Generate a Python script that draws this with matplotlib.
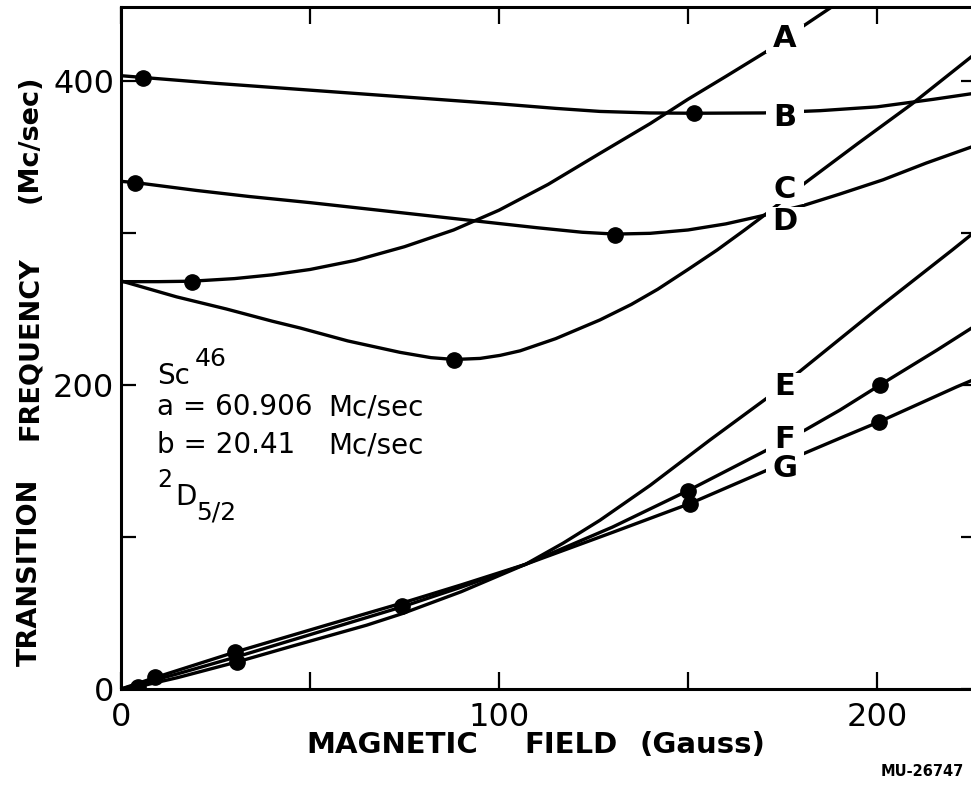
import matplotlib
matplotlib.use("Agg")
import matplotlib.pyplot as plt
from matplotlib.patches import Rectangle

# ---------------- data ----------------
A_x = [0, 10, 18.7, 30, 40, 50, 62, 75, 88, 100, 113, 126.7, 140, 150, 160, 170.5, 180.4, 190]
A_y = [268, 268, 268.3, 270, 272.5, 276, 282, 291, 302, 315, 332, 352.4, 372, 388, 403, 419, 436, 452]

B_x = [0, 25, 50, 75, 100, 115, 126.7, 140, 151.5, 170, 185, 200, 215, 226]
B_y = [403.5, 398.5, 394, 389.5, 385, 382, 380, 379, 378.8, 379, 380.5, 383, 388, 392]

C_x = [0, 14.7, 27.9, 40, 47.4, 60, 73.8, 82, 88.2, 95, 100.3, 105.6, 115, 126.7, 135, 142,
       150, 157.7, 165, 170.9, 181, 195, 209.3, 226]
C_y = [268.5, 258, 250, 242, 237.5, 229, 221.5, 218, 216.8, 217.5, 219.5, 222.5, 230.5, 242.8,
       253, 263, 276, 288.8, 302, 313, 333, 359, 385, 418]

D_x = [0, 3.7, 20, 34, 50, 70, 90, 110, 122, 130.7, 140, 150, 160, 169, 180.4, 190, 201.6, 213, 226]
D_y = [334, 333.2, 328, 324, 320, 314.5, 309, 303.5, 300.5, 299.3, 299.8, 302, 306, 311, 318,
       325.5, 335, 346, 357.5]

E_x = [0, 4.5, 15, 30.7, 45, 55, 65, 74.3, 90, 107, 117, 126.7, 140, 155.8, 170.9, 181, 200, 220, 226]
E_y = [0, 1.5, 7.5, 17.8, 28, 35, 42, 49.5, 64, 82, 96, 111, 134, 163.8, 191.4, 211.8, 250, 289, 301]

F_x = [0, 15, 30.4, 55, 74.3, 90, 107, 130, 150, 170.4, 181, 190.2, 200.8, 215.9, 226]
F_y = [0, 10, 21, 39.5, 54, 67, 82, 106.5, 130.5, 156.6, 170.4, 183.5, 200, 223, 239]

G_x = [0, 9, 30.2, 55, 74.3, 90, 107, 130, 150.5, 170.4, 181, 190.2, 200.5, 221, 226]
G_y = [0, 7.5, 24.3, 42.5, 56.5, 68.5, 82, 103, 122, 143.4, 155.3, 165, 175.7, 198.7, 204]

curves = {"A": (A_x, A_y), "B": (B_x, B_y), "C": (C_x, C_y), "D": (D_x, D_y),
          "E": (E_x, E_y), "F": (F_x, F_y), "G": (G_x, G_y)}

# measured points (dots)
dots_x = [5.8, 151.5, 3.7, 130.7, 18.7, 88.2, 4.5, 9, 30.2, 30.7, 74.3, 150, 150.5, 200.8, 200.5]
dots_y = [402, 379, 333, 299, 267.5, 216.4, 1.5, 8, 24.3, 17.8, 54.5, 130.5, 122, 200, 175.7]

# curve labels
label_names = ["A", "B", "C", "D", "E", "F", "G"]
label_x = [175.7, 175.7, 175.7, 175.7, 175.7, 175.7, 175.7]
label_y = [428, 376, 328.5, 307.5, 198.7, 164, 145]

x_ticks = [0, 50, 100, 150, 200]
x_ticklabels = ["0", "", "100", "", "200"]
y_ticks = [0, 100, 200, 300, 400]
y_ticklabels = ["0", "", "200", "", "400"]

# ---------------- figure ----------------
W, H = 971, 789
plt.rcParams['font.family'] = ['DejaVu Sans']
fig = plt.figure(figsize=(W / 100, H / 100), dpi=100)
ax = fig.add_axes([121 / W, 100 / H, 855 / W, 682 / H])
ax.set_xlim(0, 226.2)
ax.set_ylim(0, 448.7)


def P(x, y):
    return (x / W, 1 - y / H)


for name, (xs, ys) in curves.items():
    ax.plot(xs, ys, color='black', lw=2.4, solid_capstyle='round',
            solid_joinstyle='round', zorder=2)

ax.plot(dots_x, dots_y, 'o', color='black', ms=11, zorder=3)

# white gaps in the curves behind the labels, then the letters on top
gap_w, gap_h = 10.0, 19.0   # in data units
for lx, ly in zip(label_x, label_y):
    ax.add_patch(Rectangle((lx - gap_w / 2, ly - gap_h / 2), gap_w, gap_h,
                           facecolor='white', edgecolor='none', zorder=4))
for n, lx, ly in zip(label_names, label_x, label_y):
    ax.text(lx, ly, n, ha='center', va='center', fontsize=22, fontweight='bold',
            color='black', zorder=5)

for s in ax.spines.values():
    s.set_linewidth(2.2)

ax.set_xticks(x_ticks)
ax.set_xticklabels(x_ticklabels)
ax.set_yticks(y_ticks)
ax.set_yticklabels(y_ticklabels)
ax.tick_params(axis='x', direction='in', length=12, width=1.6, top=True,
               labelsize=23, pad=9)
ax.tick_params(axis='y', direction='in', length=11, width=1.6, right=True,
               labelsize=23, pad=5)

# axis titles (word by word, as spaced in the reference)
yl = dict(rotation=90, ha='center', va='center', fontsize=19.5, fontweight='bold')
fig.text(*P(30, 572), "TRANSITION", **yl)
fig.text(*P(30, 348), "FREQUENCY", **yl)
fig.text(*P(30, 139), "(Mc/sec)", **yl)
xl = dict(ha='center', va='center', fontsize=21, fontweight='bold')
fig.text(*P(392, 745), "MAGNETIC", **xl)
fig.text(*P(571, 745), "FIELD", **xl)
fig.text(*P(702, 745), "(Gauss)", **xl)

# annotation block
fs = 20
fig.text(*P(157, 384), "Sc", fontsize=fs, va='baseline')
fig.text(*P(195, 366), "46", fontsize=fs - 2, va='baseline')
fig.text(*P(157, 415), "a = 60.906", fontsize=fs, va='baseline')
fig.text(*P(328, 415), "Mc/sec", fontsize=fs, va='baseline')
fig.text(*P(157, 453), "b = 20.41", fontsize=fs, va='baseline')
fig.text(*P(328, 453), "Mc/sec", fontsize=fs, va='baseline')
fig.text(*P(157, 487), "2", fontsize=fs - 3, va='baseline')
fig.text(*P(175, 505), "D", fontsize=fs, va='baseline')
fig.text(*P(196, 520), "5/2", fontsize=fs - 2, va='baseline')

fig.text(*P(922, 772), "MU-26747", fontsize=10.5, fontweight='bold',
         ha='center', va='center')

fig.savefig("out.png", dpi=100)
